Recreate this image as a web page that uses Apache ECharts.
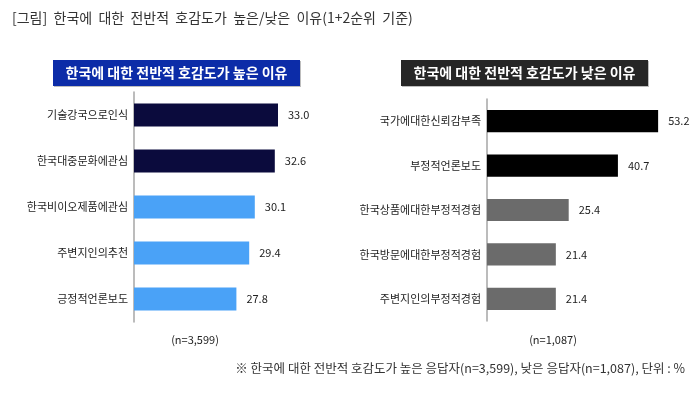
<!DOCTYPE html>
<html>
<head>
<meta charset="utf-8">
<script src="https://cdn.jsdelivr.net/npm/echarts@6/dist/echarts.min.js"></script>
<style>
  html, body { margin: 0; padding: 0; background: #fff; }
  #chart { width: 700px; height: 397px; }
</style>
</head>
<body>
<div id="chart"></div>
<script>
const highCategories = ['기술강국으로인식', '한국대중문화에관심', '한국비이오제품에관심', '주변지인의추천', '긍정적언론보도']
const highValues = [33.0, 32.6, 30.1, 29.4, 27.8]
const lowCategories = ['국가에대한신뢰감부족', '부정적언론보도', '한국상품에대한부정적경험', '한국방문에대한부정적경험', '주변지인의부정적경험']
const lowValues = [53.2, 40.7, 25.4, 21.4, 21.4]

const FONT = '"Noto Sans CJK KR", "Noto Sans", sans-serif'

const chart = echarts.init(document.getElementById('chart'))

const catAxis = (idx, cats) => ({
  type: 'category',
  gridIndex: idx,
  data: cats,
  inverse: true,
  axisTick: { show: false },
  axisLine: { lineStyle: { color: '#a6a6a6', width: 1.5 } },
  axisLabel: { color: '#222', fontSize: 11, margin: 6, fontFamily: FONT }
})

const barSeries = (idx, vals, dark, light) => ({
  type: 'bar',
  xAxisIndex: idx,
  yAxisIndex: idx,
  data: vals,
  barCategoryGap: '50%',
  itemStyle: {
    color: (p) => p.dataIndex < 2 ? dark : light
  },
  label: {
    show: true,
    position: 'right',
    distance: 10,
    color: '#222',
    fontSize: 11,
    fontFamily: FONT,
    formatter: (p) => p.value.toFixed(1)
  }
})

const header = (x, w, text, bg) => ({
  type: 'group',
  children: [
    { type: 'rect', shape: { x: x + 1, y: 61, width: w, height: 26 }, style: { fill: '#bdbdbd' } },
    { type: 'rect', shape: { x: x, y: 60, width: w, height: 26 }, style: { fill: bg } },
    {
      type: 'text', x: x + w / 2, y: 73,
      style: { text: text, fill: '#fff', font: 'bold 14px ' + FONT, align: 'center', verticalAlign: 'middle' }
    }
  ]
})

chart.setOption({
  animation: false,
  grid: [
    { left: 134, top: 92, width: 200, height: 230 },
    { left: 487, top: 99, width: 193, height: 222 }
  ],
  xAxis: [
    { type: 'value', gridIndex: 0, min: 15, max: 40, show: false },
    { type: 'value', gridIndex: 1, min: 0, max: 60, show: false }
  ],
  yAxis: [catAxis(0, highCategories), catAxis(1, lowCategories)],
  series: [
    barSeries(0, highValues, '#0b0b3d', '#4aa2f7'),
    barSeries(1, lowValues, '#000000', '#6b6b6b')
  ],
  graphic: [
    {
      type: 'text', x: 12, y: 18,
      style: { text: '[그림]  한국에  대한  전반적  호감도가  높은/낮은  이유(1+2순위  기준)', fill: '#333', font: '14px ' + FONT, verticalAlign: 'middle' }
    },
    header(53, 247, '한국에 대한 전반적 호감도가 높은 이유', '#0c2ca8'),
    header(401, 247, '한국에 대한 전반적 호감도가 낮은 이유', '#262626'),
    {
      type: 'text', x: 195, y: 340,
      style: { text: '(n=3,599)', fill: '#222', font: '11px ' + FONT, align: 'center', verticalAlign: 'middle' }
    },
    {
      type: 'text', x: 553, y: 340,
      style: { text: '(n=1,087)', fill: '#222', font: '11px ' + FONT, align: 'center', verticalAlign: 'middle' }
    },
    {
      type: 'text', x: 685, y: 368,
      style: { text: '※ 한국에 대한 전반적 호감도가 높은 응답자(n=3,599), 낮은 응답자(n=1,087), 단위 : %', fill: '#333', font: '12.5px ' + FONT, align: 'right', verticalAlign: 'middle' }
    }
  ]
})
</script>
</body>
</html>
